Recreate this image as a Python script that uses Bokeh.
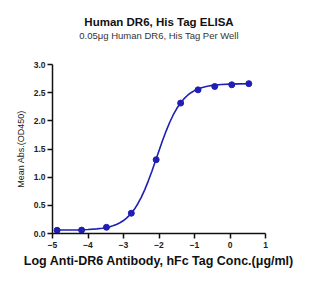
from bokeh.plotting import figure
from bokeh.models import Title, Range1d, FixedTicker
from bokeh.embed import file_html
from bokeh.resources import INLINE

# measured points (log10 concentration, mean OD450)
log_conc = [-4.87, -4.18, -3.48, -2.78, -2.08, -1.39, -0.90, -0.43, 0.05, 0.53]
mean_abs = [0.057, 0.060, 0.110, 0.360, 1.310, 2.315, 2.550, 2.610, 2.640, 2.660]

# fitted curve
curve_x = [-4.87, -4.5, -4.25, -4.0, -3.75, -3.6, -3.5, -3.4, -3.3, -3.2, -3.1,
           -3.0, -2.9, -2.8, -2.7, -2.6, -2.5, -2.4, -2.3, -2.2, -2.1,
           -2.0, -1.9, -1.8, -1.7, -1.6, -1.5, -1.4, -1.3, -1.2, -1.1,
           -1.0, -0.9, -0.8, -0.7, -0.6, -0.5, -0.25, 0.0, 0.25, 0.53]
curve_y = [0.061, 0.063, 0.065, 0.071, 0.082, 0.093, 0.103, 0.117, 0.136, 0.159, 0.190,
           0.230, 0.281, 0.345, 0.425, 0.524, 0.641, 0.779, 0.935, 1.106, 1.286,
           1.470, 1.650, 1.818, 1.970, 2.104, 2.218, 2.312, 2.389, 2.450, 2.499,
           2.537, 2.566, 2.588, 2.606, 2.619, 2.629, 2.645, 2.652, 2.656, 2.658]

x_ticks = [-5, -4, -3, -2, -1, 0, 1]
y_ticks = [0.0, 0.5, 1.0, 1.5, 2.0, 2.5, 3.0]

title_text = "Human DR6, His Tag ELISA"
subtitle_text = "0.05μg Human DR6, His Tag Per Well"
x_label = "Log Anti-DR6 Antibody, hFc Tag Conc.(μg/ml)"
y_label = "Mean Abs.(OD450)"

BLUE = "#1f1fb4"
FONT = "Liberation Sans"

p = figure(width=333, height=283, output_backend="svg", toolbar_location=None,
           x_range=Range1d(-5, 1), y_range=Range1d(0, 3),
           min_border_left=52, min_border_right=68, min_border_top=0, min_border_bottom=50)
p.outline_line_color = None
p.grid.visible = False
p.background_fill_color = "white"
p.border_fill_color = "white"
p.title.visible = False

spacer = Title(text=" ", align="center", text_font=FONT, text_font_size="20px", standoff=0)
sub = Title(text=subtitle_text, align="center", text_font=FONT, text_font_size="9.5px",
            text_font_style="normal", text_color="#333333", standoff=0)
main = Title(text=title_text, align="center", text_font=FONT, text_font_size="11.5px",
             text_font_style="bold", text_color="#111111", standoff=0)
top_pad = Title(text=" ", align="center", text_font=FONT, text_font_size="10px", standoff=0)
p.add_layout(spacer, "above")
p.add_layout(sub, "above")
p.add_layout(main, "above")
p.add_layout(top_pad, "above")

p.line(curve_x, curve_y, line_color=BLUE, line_width=1.6)
p.scatter(log_conc, mean_abs, size=6, fill_color=BLUE, line_color=BLUE)

for ax in (p.xaxis[0], p.yaxis[0]):
    ax.axis_line_width = 1.5
    ax.axis_line_color = "#111111"
    ax.major_tick_line_color = "#111111"
    ax.major_tick_line_width = 1.5
    ax.major_tick_out = 5
    ax.major_tick_in = 0
    ax.minor_tick_line_color = None
    ax.major_label_text_font = FONT
    ax.major_label_text_font_style = "bold"
    ax.major_label_text_color = "#222222"
    ax.major_label_text_font_size = "8.5px"
    ax.axis_label_text_font = FONT

p.xaxis[0].ticker = FixedTicker(ticks=x_ticks)
p.yaxis[0].ticker = FixedTicker(ticks=y_ticks)
p.yaxis[0].major_label_overrides = {v: f"{v:.1f}" for v in y_ticks}
p.xaxis[0].major_label_standoff = 3
p.yaxis[0].major_label_standoff = 2

p.xaxis[0].axis_label = x_label
p.xaxis[0].axis_label_text_font_size = "12.5px"
p.xaxis[0].axis_label_text_font_style = "bold"
p.xaxis[0].axis_label_text_color = "#111111"
p.xaxis[0].axis_label_standoff = 3

p.yaxis[0].axis_label = y_label
p.yaxis[0].axis_label_text_font_size = "9px"
p.yaxis[0].axis_label_text_font_style = "normal"
p.yaxis[0].axis_label_text_color = "#222222"
p.yaxis[0].axis_label_standoff = 5

open("out.html", "w").write(file_html(p, INLINE))
